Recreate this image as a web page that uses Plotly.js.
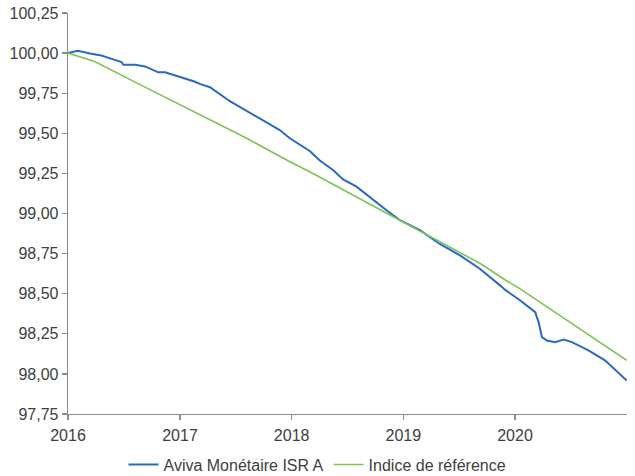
<!DOCTYPE html>
<html>
<head>
<meta charset="utf-8">
<script src="https://cdn.plot.ly/plotly-3.0.1.min.js"></script>
<style>html,body{margin:0;padding:0;background:#fff;}#chart{width:635px;height:476px;}</style>
</head>
<body>
<div id="chart"></div>
<script>
const seriesNames = ["Aviva Monétaire ISR A", "Indice de référence"];

const fundDates = ["2016-01-01","2016-02-02","2016-03-17","2016-04-19","2016-06-02","2016-06-24","2016-06-30","2016-08-07","2016-09-09","2016-10-22","2016-11-13","2016-12-27","2017-02-17","2017-03-07","2017-04-09","2017-06-13","2017-09-30","2017-11-23","2017-12-26","2018-03-01","2018-04-03","2018-05-17","2018-06-18","2018-08-01","2018-11-07","2018-12-10","2018-12-21","2019-02-24","2019-04-30","2019-07-04","2019-09-08","2019-11-13","2019-11-29","2020-01-18","2020-03-07","2020-03-18","2020-03-29","2020-04-14","2020-05-11","2020-06-08","2020-07-05","2020-08-28","2020-10-22","2020-12-31"];
const fundValues = [100.00,100.014,99.996,99.985,99.958,99.944,99.927,99.927,99.917,99.88,99.88,99.855,99.823,99.808,99.787,99.70,99.583,99.52,99.469,99.39,99.33,99.27,99.212,99.167,99.02,98.969,98.958,98.896,98.81,98.74,98.656,98.552,98.525,98.458,98.385,98.323,98.229,98.208,98.198,98.214,98.198,98.146,98.083,97.958];

const indexDates = ["2016-01-01","2016-03-28","2016-07-27","2017-01-01","2017-02-17","2017-08-07","2017-12-26","2018-03-01","2018-11-29","2019-04-30","2019-07-27","2019-09-08","2019-11-29","2020-01-18","2020-12-31"];
const indexValues = [100.00,99.948,99.83,99.68,99.635,99.469,99.323,99.26,98.98,98.823,98.73,98.69,98.587,98.53,98.085];

const yTicks = [97.75,98.00,98.25,98.50,98.75,99.00,99.25,99.50,99.75,100.00,100.25];
const xTickVals = ["2016-01-01","2017-01-01","2018-01-01","2019-01-01","2020-01-01"];
const xTickText = ["2016","2017","2018","2019","2020"];

const traces = [
  {x: fundDates, y: fundValues, name: seriesNames[0], type: "scatter", mode: "lines",
   line: {color: "#2B67C6", width: 2}},
  {x: indexDates, y: indexValues, name: seriesNames[1], type: "scatter", mode: "lines",
   line: {color: "#7DC352", width: 1.6}}
];

const axisColor = "#8c8c8c";
const layout = {
  width: 635, height: 476,
  margin: {l: 68, r: 8, t: 13, b: 62, autoexpand: false},
  paper_bgcolor: "#fff", plot_bgcolor: "#fff",
  separators: ",.",
  font: {family: "Liberation Sans, Arial, sans-serif", size: 16, color: "#404040"},
  showlegend: true,
  legend: {orientation: "h", xref: "container", x: 0.5, xanchor: "center",
           yref: "container", y: 0.024, yanchor: "middle",
           font: {size: 16, color: "#404040"}, itemwidth: 30},
  xaxis: {type: "date", range: ["2016-01-01", "2021-01-01"],
          tickvals: xTickVals, ticktext: xTickText,
          showgrid: false, zeroline: false, showline: true, linecolor: axisColor, linewidth: 1.3,
          ticks: "outside", ticklen: 5, tickcolor: axisColor, tickwidth: 1.3, ticklabelstandoff: 1},
  yaxis: {range: [97.75, 100.25], tickvals: yTicks, tickformat: ".2f",
          showgrid: false, zeroline: false, showline: true, linecolor: axisColor, linewidth: 1.3,
          ticks: "outside", ticklen: 5, tickcolor: axisColor, tickwidth: 1.3}
};

Plotly.newPlot("chart", traces, layout, {displayModeBar: false, staticPlot: true});
</script>
</body>
</html>
